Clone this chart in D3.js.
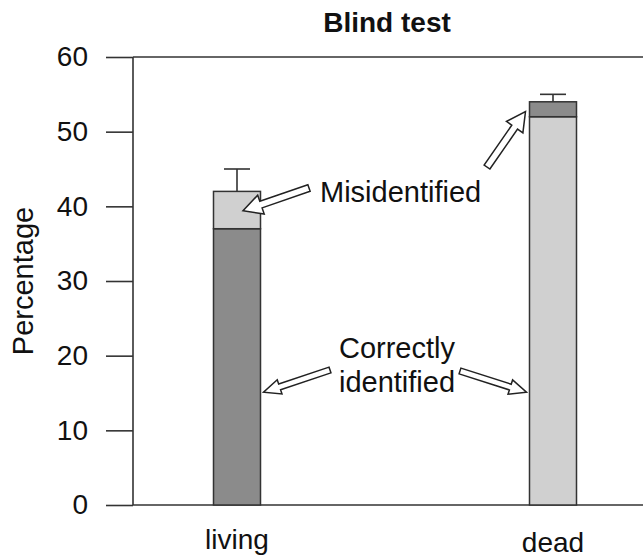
<!DOCTYPE html>
<html>
<head>
<meta charset="utf-8">
<script src="https://cdn.jsdelivr.net/npm/d3@7"></script>
<style>
  html, body { margin: 0; padding: 0; background: #fff; }
  svg { display: block; }
  text { font-family: "Liberation Sans", Arial, Helvetica, sans-serif; fill: #111; }
</style>
</head>
<body>
<script>
// ---- data ----
const categories = ["living", "dead"];
const correctlyIdentified = [37, 52];
const misidentified = [5, 2];
const errorUpper = [3, 1];
const yTicks = [0, 10, 20, 30, 40, 50, 60];
const title = "Blind test";
const yLabel = "Percentage";

// ---- layout ----
const W = 643, H = 558;
const axisX = 133, yTop = 57, yBottom = 505;
const barW = 47;

const svg = d3.select("body").append("svg").attr("width", W).attr("height", H);

const y = d3.scaleLinear().domain([0, 60]).range([yBottom, yTop]);
const x = d3.scalePoint().domain(categories).range([237, 553]);

const dark = "#8b8b8b", light = "#d0d0d0", lineCol = "#333";
// colours of the correct / misidentified segments per category
const correctFill = [dark, light];
const misFill = [light, dark];

// y axis
const yAxis = d3.axisLeft(y).tickValues(yTicks).tickSize(27).tickPadding(18).tickFormat(d3.format("d"));
const gy = svg.append("g").attr("transform", `translate(${axisX},0)`).call(yAxis);
gy.select(".domain").attr("stroke", lineCol).attr("stroke-width", 1.6).attr("d", `M0,${yTop}V${yBottom}`);
gy.selectAll(".tick line").attr("stroke", lineCol).attr("stroke-width", 1.6);
gy.selectAll(".tick text").style("font-size", "28px").attr("fill", "#111")
  .style("font-family", '"Liberation Sans", Arial, sans-serif');

// full-width lines at 0 and 60
[0, 60].forEach(v => {
  svg.append("line").attr("x1", axisX).attr("x2", W).attr("y1", y(v)).attr("y2", y(v))
    .attr("stroke", lineCol).attr("stroke-width", 1.6);
});

// bars
categories.forEach((c, i) => {
  const cx = x(c);
  const c0 = correctlyIdentified[i], m = misidentified[i];
  svg.append("rect").attr("x", cx - barW / 2).attr("width", barW)
    .attr("y", y(c0)).attr("height", y(0) - y(c0))
    .attr("fill", correctFill[i]).attr("stroke", lineCol).attr("stroke-width", 1.5);
  svg.append("rect").attr("x", cx - barW / 2).attr("width", barW)
    .attr("y", y(c0 + m)).attr("height", y(c0) - y(c0 + m))
    .attr("fill", misFill[i]).attr("stroke", lineCol).attr("stroke-width", 1.5);
  const top = c0 + m, eTop = top + errorUpper[i];
  svg.append("line").attr("x1", cx).attr("x2", cx).attr("y1", y(top)).attr("y2", y(eTop))
    .attr("stroke", lineCol).attr("stroke-width", 1.6);
  svg.append("line").attr("x1", cx - 13).attr("x2", cx + 13).attr("y1", y(eTop)).attr("y2", y(eTop))
    .attr("stroke", lineCol).attr("stroke-width", 1.6);
});

// hollow block arrow
function blockArrow(x1, y1, x2, y2, shaftW, headW, headL) {
  const dx = x2 - x1, dy = y2 - y1, L = Math.hypot(dx, dy);
  const ux = dx / L, uy = dy / L, px = -uy, py = ux;
  const bx = x2 - ux * headL, by = y2 - uy * headL;
  const s = shaftW / 2, h = headW / 2;
  const pts = [
    [x1 + px * s, y1 + py * s], [bx + px * s, by + py * s], [bx + px * h, by + py * h],
    [x2, y2],
    [bx - px * h, by - py * h], [bx - px * s, by - py * s], [x1 - px * s, y1 - py * s]
  ];
  svg.append("path").attr("d", "M" + pts.map(p => p.join(",")).join("L") + "Z")
    .attr("fill", "#fff").attr("stroke", "#222").attr("stroke-width", 1.5).attr("stroke-linejoin", "miter");
}

const xl = x("living"), xd = x("dead");
// Misidentified arrows
blockArrow(309, 188, xl + 6, y(39.4), 7, 20, 19);
blockArrow(487, 167, xd - barW / 2 - 4, y(52.7), 7, 20, 19);
// Correctly identified arrows
blockArrow(330, 370, xl + barW / 2 + 3, y(15.1), 6, 15, 17);
blockArrow(460, 371, xd - barW / 2 - 3, y(15.1), 6, 15, 17);

// annotation texts
svg.append("text").attr("x", 320).attr("y", 202).style("font-size", "29px").text("Misidentified");
svg.append("text").attr("x", 397).attr("y", 358).attr("text-anchor", "middle").style("font-size", "29px").text("Correctly");
svg.append("text").attr("x", 397).attr("y", 392).attr("text-anchor", "middle").style("font-size", "29px").text("identified");

// category labels
categories.forEach((c, i) => {
  svg.append("text").attr("x", x(c)).attr("y", i === 0 ? 549 : 552)
    .attr("text-anchor", "middle").style("font-size", "28px").text(c);
});

// title
svg.append("text").attr("x", 387).attr("y", 32).attr("text-anchor", "middle")
  .style("font-size", "28px").style("font-weight", "bold").text(title);

// y label
svg.append("text").attr("transform", `translate(33,281) rotate(-90)`)
  .attr("text-anchor", "middle").style("font-size", "29px").text(yLabel);
</script>
</body>
</html>
